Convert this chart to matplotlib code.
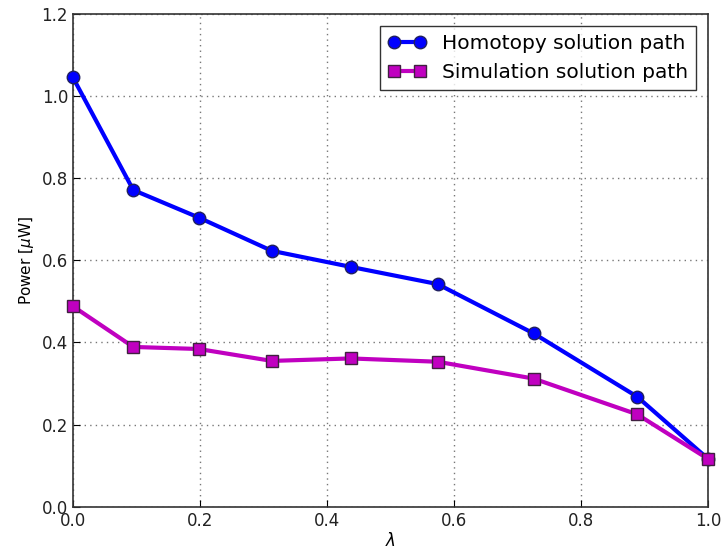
import matplotlib
matplotlib.use("Agg")
import matplotlib.pyplot as plt

lam = [0.0, 0.095, 0.198, 0.313, 0.437, 0.574, 0.725, 0.888, 1.0]
homotopy = [1.045, 0.771, 0.704, 0.623, 0.584, 0.542, 0.422, 0.268, 0.116]
simulation = [0.488, 0.389, 0.384, 0.355, 0.361, 0.353, 0.312, 0.225, 0.116]

fig = plt.figure(figsize=(7.22, 5.52), dpi=100)
ax = fig.add_axes([0.101, 0.082, 0.88, 0.893])

ax.plot(lam, homotopy, "-o", color="blue", lw=3, ms=9, mec="#202060", mew=1,
        label="Homotopy solution path", clip_on=False, zorder=3)
ax.plot(lam, simulation, "-s", color="#c000c0", lw=3, ms=9, mec="#402040", mew=1,
        label="Simulation solution path", clip_on=False, zorder=3)

ax.set_xlim(0, 1)
ax.set_ylim(0, 1.2)
ax.set_xticks([0, 0.2, 0.4, 0.6, 0.8, 1.0])
ax.set_yticks([0, 0.2, 0.4, 0.6, 0.8, 1.0, 1.2])
ax.tick_params(labelsize=12, direction="in", length=5, labelcolor="#222222")
ax.grid(True, color="#777777", linestyle=(0, (1, 3)), lw=1)
ax.set_xlabel(r"$\lambda$", fontsize=12, labelpad=2)
ax.set_ylabel(r"Power [$\mu$W]", fontsize=11)
for s in ax.spines.values():
    s.set_linewidth(1.2)
    s.set_color("#333333")

leg = ax.legend(loc="upper right", fontsize=14.5, fancybox=False, numpoints=2,
                handlelength=1.9, borderaxespad=0.6)
leg.get_frame().set_edgecolor("black")

fig.savefig("out.png", dpi=100)
